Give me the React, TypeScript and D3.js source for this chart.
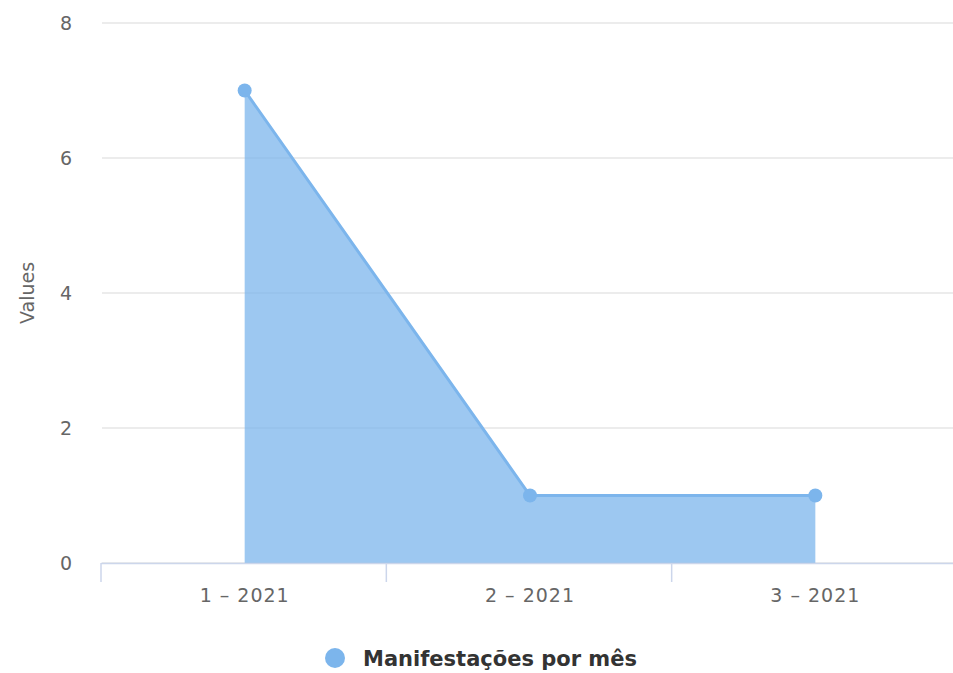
import React from 'react';
import * as d3 from 'd3';

// dados do gráfico
const categories = ['1 - 2021', '2 - 2021', '3 - 2021'];
const values = [7, 1, 1];
const yTicks = [0, 2, 4, 6, 8];
const seriesName = 'Manifestações por mês';
const yTitle = 'Values';

const W = 953;
const H = 673;
const margin = { top: 23, left: 102, bottom: 110 };
const plotRight = 958;
const color = '#7cb5ec';
const font = '"DejaVu Sans", Verdana, sans-serif';

const App: React.FC = () => {
  const x = d3.scaleBand<string>()
    .domain(categories)
    .range([margin.left, plotRight]);

  const y = d3.scaleLinear()
    .domain([0, 8])
    .range([H - margin.bottom, margin.top]);

  const cx = (c: string) => (x(c) ?? 0) + x.bandwidth() / 2;
  const pts = categories.map((c, i) => ({ c, v: values[i] }));

  const area = d3.area<{ c: string; v: number }>()
    .x(d => cx(d.c))
    .y0(y(0))
    .y1(d => y(d.v));

  const line = d3.line<{ c: string; v: number }>()
    .x(d => cx(d.c))
    .y(d => y(d.v));

  // ticks entre categorias
  const tickXs = categories.map(c => x(c) ?? 0);

  return (
    <svg
      width={W}
      height={H}
      style={{ position: 'absolute', left: 0, top: 0, background: '#fff' }}
      fontFamily={font}
    >
      {/* grade */}
      {yTicks.map(t => (
        <line key={t} x1={margin.left} x2={W} y1={y(t)} y2={y(t)} stroke="#e6e6e6" strokeWidth={1.5} />
      ))}
      {yTicks.map(t => (
        <text key={'l' + t} x={72} y={y(t) + 7} textAnchor="end" fontSize={19} fill="#666666">
          {t}
        </text>
      ))}
      <text
        transform={`translate(34, ${(y(0) + y(8)) / 2}) rotate(-90)`}
        textAnchor="middle"
        fontSize={19}
        fill="#666666"
      >
        {yTitle}
      </text>

      {/* área */}
      <path d={area(pts) ?? ''} fill={color} fillOpacity={0.75} />
      <path d={line(pts) ?? ''} fill="none" stroke={color} strokeWidth={3} />
      {pts.map(p => (
        <circle key={p.c} cx={cx(p.c)} cy={y(p.v)} r={7} fill={color} />
      ))}

      {/* eixo x */}
      <line x1={margin.left - 1} x2={W} y1={y(0) + 0.5} y2={y(0) + 0.5} stroke="#ccd6eb" strokeWidth={1.5} />
      {tickXs.map((t, i) => (
        <line key={i} x1={t - 1} x2={t - 1} y1={y(0)} y2={y(0) + 19} stroke="#ccd6eb" strokeWidth={1.5} />
      ))}
      {categories.map(c => (
        <text key={c} x={cx(c)} y={602} textAnchor="middle" fontSize={19} fill="#666666" letterSpacing={1}>
          {c.replace('-', '–')}
        </text>
      ))}

      {/* legenda */}
      <circle cx={335} cy={658} r={10} fill={color} />
      <text x={363} y={666} fontSize={21} fontWeight="bold" fill="#333333">
        {seriesName}
      </text>
    </svg>
  );
};

export default App;
